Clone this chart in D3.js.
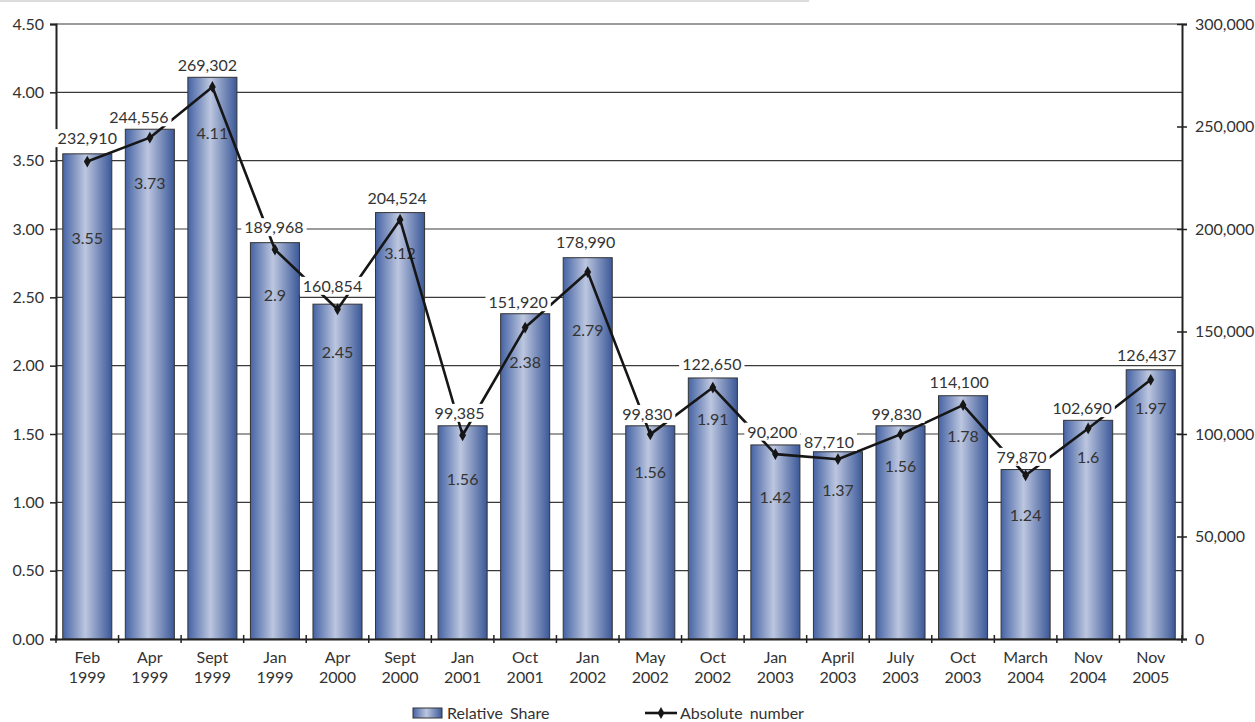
<!DOCTYPE html>
<html>
<head>
<meta charset="utf-8">
<script src="https://cdn.jsdelivr.net/npm/d3@7/dist/d3.min.js"></script>
<style>
  html, body { margin: 0; padding: 0; background: #fff; }
  svg { display: block; }
  text { font-family: Lato, "Open Sans", sans-serif; fill: #333; }
</style>
</head>
<body>
<svg id="chart" width="1255" height="722"></svg>
<script>
// Survey periods
const periods = ["Feb 1999", "Apr 1999", "Sept 1999", "Jan 1999", "Apr 2000", "Sept 2000",
  "Jan 2001", "Oct 2001", "Jan 2002", "May 2002", "Oct 2002", "Jan 2003", "April 2003",
  "July 2003", "Oct 2003", "March 2004", "Nov 2004", "Nov 2005"];

// Relative share (left axis, bars)
const relativeShare = [3.55, 3.73, 4.11, 2.9, 2.45, 3.12, 1.56, 2.38, 2.79, 1.56, 1.91,
  1.42, 1.37, 1.56, 1.78, 1.24, 1.6, 1.97];

// Absolute number (right axis, line)
const absoluteNumber = [232910, 244556, 269302, 189968, 160854, 204524, 99385, 151920,
  178990, 99830, 122650, 90200, 87710, 99830, 114100, 79870, 102690, 126437];

// Axis ticks
const shareTicks = [0, 0.5, 1, 1.5, 2, 2.5, 3, 3.5, 4, 4.5];
const absoluteTicks = [0, 50000, 100000, 150000, 200000, 250000, 300000];

// Label placement: share labels sit this many px below the bar top;
// number labels are offset from their marker by (dx, dy) px.
const shareLabelDrop = [85, 54, 56, 53, 48, 41, 54, 49, 73, 47, 41, 52, 39, 41, 41, 46, 37, 39];
const absLabelDx = [0, -11, -5, -1, -5, -3, -3, -7, -2, -3, -1, -3, -9, -4, -4, -4, -6, -4];
const absLabelDy = [-23, -20, -22, -22, -23, -21, -22, -25, -30, -20, -23, -22, -17, -20, -23, -18, -20, -24];

const svg = d3.select("#chart");
const plotLeft = 56, plotRight = 1182, plotTop = 24, plotBottom = 639;
const FONT = "Lato, 'Open Sans', sans-serif";
const FS = 16;

// thin grey strip along the top edge
svg.append("rect").attr("x", 0).attr("y", 0).attr("width", 809).attr("height", 2).attr("fill", "#dcdcdc");

const defs = svg.append("defs");
const grad = defs.append("linearGradient").attr("id", "barGrad")
  .attr("x1", "0%").attr("x2", "100%").attr("y1", "0%").attr("y2", "0%");
grad.append("stop").attr("offset", "0%").attr("stop-color", "#4563a4");
grad.append("stop").attr("offset", "46%").attr("stop-color", "#bcc6df");
grad.append("stop").attr("offset", "100%").attr("stop-color", "#3b5898");

const x = d3.scaleBand().domain(periods).range([plotLeft, plotRight]).paddingInner(0.216).paddingOuter(0.108);
const yShare = d3.scaleLinear().domain([0, 4.5]).range([plotBottom, plotTop]);
const yAbs = d3.scaleLinear().domain([0, 300000]).range([plotBottom, plotTop]);

// horizontal gridlines
svg.append("g").selectAll("line").data(shareTicks.filter(d => d > 0)).join("line")
  .attr("x1", plotLeft).attr("x2", plotRight)
  .attr("y1", d => yShare(d)).attr("y2", d => yShare(d))
  .attr("stroke", "#3a3a3a").attr("stroke-width", 1.2);

// bars
svg.append("g").selectAll("rect").data(periods).join("rect")
  .attr("x", d => x(d)).attr("width", x.bandwidth())
  .attr("y", (d, i) => yShare(relativeShare[i]))
  .attr("height", (d, i) => yShare(0) - yShare(relativeShare[i]))
  .attr("fill", "url(#barGrad)").attr("stroke", "#333").attr("stroke-width", 1);

// share labels inside bars
svg.append("g").selectAll("text").data(periods).join("text")
  .attr("x", d => x(d) + x.bandwidth() / 2)
  .attr("y", (d, i) => yShare(relativeShare[i]) + shareLabelDrop[i])
  .attr("dy", "0.35em").attr("text-anchor", "middle").attr("font-size", FS)
  .text((d, i) => relativeShare[i]);

// left axis
const axL = svg.append("g").attr("transform", `translate(${plotLeft},0)`)
  .call(d3.axisLeft(yShare).tickValues(shareTicks).tickFormat(d3.format(".2f")).tickSize(6).tickPadding(6));
axL.select(".domain").attr("stroke", "#222").attr("stroke-width", 2);
axL.selectAll(".tick line").attr("stroke", "#222").attr("stroke-width", 1.5);
axL.selectAll(".tick text").attr("font-size", FS).attr("font-family", FONT).attr("fill", "#333");

// right axis
const axR = svg.append("g").attr("transform", `translate(${plotRight},0)`)
  .call(d3.axisRight(yAbs).tickValues(absoluteTicks).tickFormat(d3.format(",")).tickSize(5).tickPadding(8));
axR.select(".domain").attr("stroke", "#222").attr("stroke-width", 2);
axR.selectAll(".tick line").attr("x1", -5).attr("x2", 5).attr("stroke", "#222").attr("stroke-width", 1.5);
axR.selectAll(".tick text").attr("font-size", FS).attr("font-family", FONT).attr("fill", "#333");

// bottom axis: two-line category labels, ticks on band boundaries
const axB = svg.append("g").attr("transform", `translate(0,${plotBottom})`)
  .call(d3.axisBottom(x).tickSize(0).tickPadding(0));
axB.select(".domain").attr("stroke", "#222").attr("stroke-width", 2);
axB.selectAll(".tick text").each(function (d) {
  const parts = d.split(" ");
  const t = d3.select(this).text(null).attr("font-size", FS)
    .attr("font-family", FONT).attr("fill", "#333").attr("dy", null).attr("y", 0);
  t.append("tspan").attr("x", 0).attr("y", 18).attr("dy", "0.35em").text(parts[0]);
  t.append("tspan").attr("x", 0).attr("y", 38).attr("dy", "0.35em").text(parts[1]);
});
const boundaries = d3.range(periods.length + 1).map(k => plotLeft + k * x.step());
axB.selectAll(".bound").data(boundaries).join("line").attr("class", "bound")
  .attr("x1", d => d).attr("x2", d => d).attr("y1", -4).attr("y2", 4)
  .attr("stroke", "#222").attr("stroke-width", 1.5);

// absolute-number line with diamond markers
const cx = (d, i) => x(periods[i]) + x.bandwidth() / 2;
const line = d3.line().x((d, i) => cx(d, i)).y(d => yAbs(d));
svg.append("path").datum(absoluteNumber).attr("d", line)
  .attr("fill", "none").attr("stroke", "#161616").attr("stroke-width", 2.6).attr("stroke-linejoin", "round");
const diamond = d3.symbol().type(d3.symbolDiamond).size(40);
svg.append("g").selectAll("path").data(absoluteNumber).join("path")
  .attr("transform", (d, i) => `translate(${cx(d, i)},${yAbs(d)})`)
  .attr("d", diamond).attr("fill", "#161616");

// absolute-number labels on white boxes
const fmt = d3.format(",");
const lab = svg.append("g").selectAll("g").data(absoluteNumber).join("g")
  .attr("transform", (d, i) => `translate(${cx(d, i) + absLabelDx[i]},${yAbs(d) + absLabelDy[i]})`);
lab.append("rect").attr("fill", "#fff");
lab.append("text").attr("text-anchor", "middle").attr("dy", "0.35em").attr("font-size", FS).text(d => fmt(d));
lab.each(function () {
  const g = d3.select(this);
  const b = g.select("text").node().getBBox();
  g.select("rect").attr("x", b.x - 3).attr("y", b.y + 1).attr("width", b.width + 6).attr("height", b.height - 1);
});

// legend
const lg = svg.append("g");
lg.append("rect").attr("x", 413).attr("y", 708).attr("width", 29).attr("height", 10)
  .attr("fill", "url(#barGrad)").attr("stroke", "#333").attr("stroke-width", 1);
lg.append("text").attr("x", 447).attr("y", 713).attr("dy", "0.35em").attr("font-size", FS)
  .attr("word-spacing", 3).text("Relative Share");
lg.append("line").attr("x1", 645).attr("x2", 677).attr("y1", 713).attr("y2", 713)
  .attr("stroke", "#161616").attr("stroke-width", 2.6);
lg.append("path").attr("transform", "translate(661,713)").attr("d", diamond).attr("fill", "#161616");
lg.append("text").attr("x", 680).attr("y", 713).attr("dy", "0.35em").attr("font-size", FS)
  .attr("word-spacing", 3).text("Absolute number");
</script>
</body>
</html>
